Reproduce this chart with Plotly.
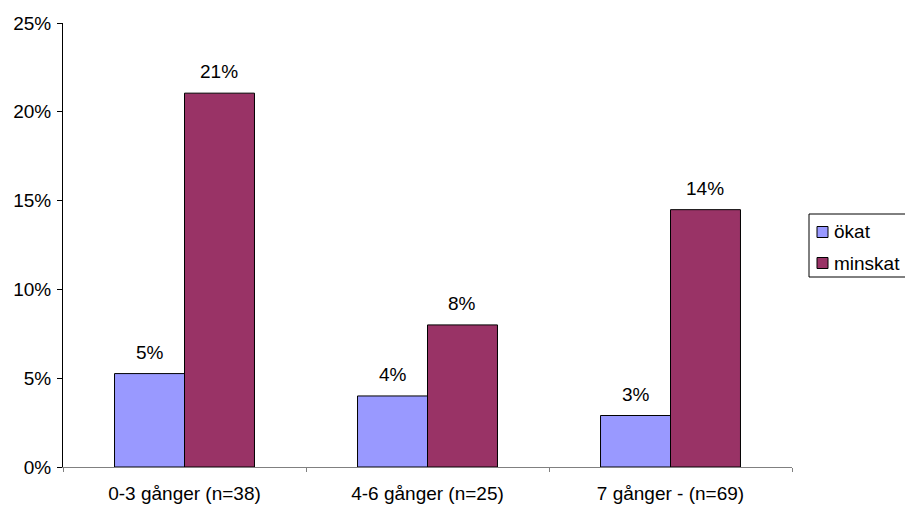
import plotly.graph_objects as go

# Category labels and shares (percent) per series
categories = ["0-3 gånger (n=38)", "4-6 gånger (n=25)", "7 gånger - (n=69)"]
okat = [5.26, 4.00, 2.90]
minskat = [21.05, 8.00, 14.49]
series_names = ["ökat", "minskat"]
y_ticks = [0, 5, 10, 15, 20, 25]

colors = ["#9999FF", "#993366"]
FONT_FAMILY = "Liberation Sans, Arial, sans-serif"
font = dict(family=FONT_FAMILY, size=19, color="#000000")

# Plot area in pixels (used for the hand-built legend)
W, H = 905, 506
ML, MR, MT, MB = 63, 113, 23, 39
PW, PH = W - ML - MR, H - MT - MB


def px_x(p):
    return (p - ML) / PW


def px_y(p):
    return (H - MB - p) / PH


fig = go.Figure()
series_vals = [okat, minskat]
for i, (name, vals) in enumerate(zip(series_names, series_vals)):
    fig.add_trace(go.Bar(
        x=categories, y=vals, name=name,
        marker=dict(color=colors[i], line=dict(color="#000000", width=1)),
        showlegend=False,
    ))

# Value labels above each bar
bargap = 0.424
half = (1 - bargap) / 4
for i, vals in enumerate(series_vals):
    sign = -1 if i == 0 else 1
    for j, v in enumerate(vals):
        fig.add_annotation(
            x=j + sign * half, y=v, xref="x", yref="y",
            text=f"{round(v):d}%", showarrow=False,
            yanchor="bottom", yshift=9, font=font,
        )

# Legend box with swatches
fig.add_shape(type="rect", xref="paper", yref="paper",
              x0=px_x(809), x1=px_x(910), y0=px_y(277), y1=px_y(214),
              line=dict(color="#000000", width=1), fillcolor="white")
for i, (name, cy) in enumerate(zip(series_names, [232, 263])):
    fig.add_shape(type="rect", xref="paper", yref="paper",
                  x0=px_x(817), x1=px_x(828), y0=px_y(cy + 5.5), y1=px_y(cy - 5.5),
                  line=dict(color="#000000", width=1), fillcolor=colors[i])
    fig.add_annotation(xref="paper", yref="paper", x=px_x(832), y=px_y(cy),
                       text=name, showarrow=False, xanchor="left", yanchor="middle",
                       font=font)

fig.update_layout(
    width=W, height=H,
    margin=dict(l=ML, r=MR, t=MT, b=MB, autoexpand=False),
    paper_bgcolor="white", plot_bgcolor="white",
    barmode="group", bargap=bargap, bargroupgap=0,
    font=font,
    showlegend=False,
)
fig.update_yaxes(
    range=[0, 25], tickvals=y_ticks, ticktext=[f"{t}%" for t in y_ticks],
    tickfont=font,
    showgrid=False, zeroline=False,
    showline=True, linecolor="#000000", linewidth=1,
    ticks="outside", ticklen=5, tickcolor="#000000",
    ticklabelstandoff=2,
)
fig.update_xaxes(
    tickfont=font,
    showgrid=False, showline=True, linecolor="#808080", linewidth=1,
    ticks="outside", tickson="boundaries", ticklen=4, tickcolor="#808080",
    ticklabelstandoff=9,
)

fig.write_html("out.html")
